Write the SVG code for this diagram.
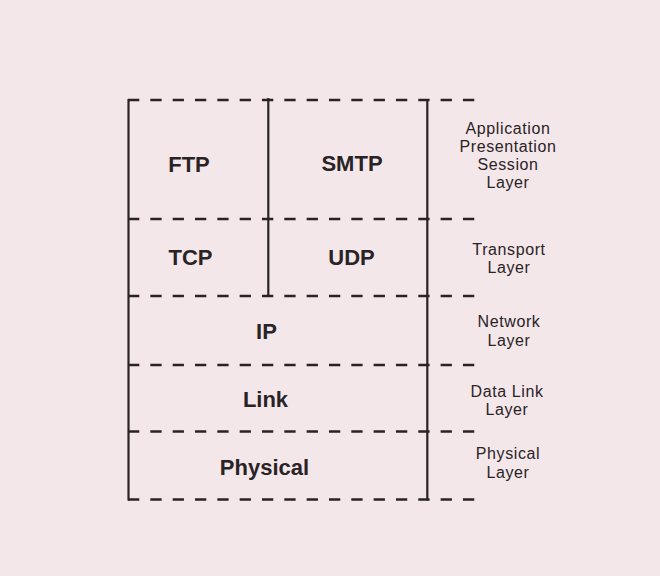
<svg xmlns="http://www.w3.org/2000/svg" width="660" height="576" viewBox="0 0 660 576">
<style>
.solid{stroke:#2a2326;stroke-width:2.2;fill:none}
.dash{stroke:#2a2326;stroke-width:2.6;fill:none;stroke-dasharray:11.3 11.03}
.proto{font-family:"Liberation Sans",Arial,sans-serif;font-weight:bold;font-size:22px;fill:#2a2326;text-anchor:middle}
.layer{font-family:"Liberation Sans",Arial,sans-serif;font-size:16px;letter-spacing:0.6px;fill:#2a2326;text-anchor:middle}
</style>
<rect width="660" height="576" fill="#f4e7ea"/>
<g id="connectors">
<line class="dash" x1="128" y1="100" x2="475" y2="100"/>
<line class="dash" x1="128" y1="219" x2="475" y2="219"/>
<line class="dash" x1="128" y1="296" x2="475" y2="296"/>
<line class="dash" x1="128" y1="365" x2="475" y2="365"/>
<line class="dash" x1="128" y1="431.5" x2="475" y2="431.5"/>
<line class="dash" x1="128" y1="499.5" x2="475" y2="499.5"/>
<line class="solid" x1="128.5" y1="99" x2="128.5" y2="500.5"/>
<line class="solid" x1="268.3" y1="98" x2="268.3" y2="296"/>
<line class="solid" x1="427.3" y1="99" x2="427.3" y2="500.5"/>
</g>
<g id="ftp"><text class="proto" x="189" y="171.5">FTP</text></g>
<g id="smtp"><text class="proto" x="352" y="171">SMTP</text></g>
<g id="tcp"><text class="proto" x="190.5" y="265">TCP</text></g>
<g id="udp"><text class="proto" x="351.5" y="264.5">UDP</text></g>
<g id="ip"><text class="proto" x="266.5" y="339">IP</text></g>
<g id="link"><text class="proto" x="265.5" y="406.5">Link</text></g>
<g id="physical"><text class="proto" x="264.5" y="475">Physical</text></g>
<g id="app-layer">
<text class="layer" x="508" y="134">Application</text>
<text class="layer" x="508" y="152">Presentation</text>
<text class="layer" x="508" y="170">Session</text>
<text class="layer" x="508" y="188">Layer</text>
</g>
<g id="transport-layer">
<text class="layer" x="509" y="255">Transport</text>
<text class="layer" x="509" y="273">Layer</text>
</g>
<g id="network-layer">
<text class="layer" x="509" y="327">Network</text>
<text class="layer" x="509" y="345.5">Layer</text>
</g>
<g id="datalink-layer">
<text class="layer" x="507" y="396.5">Data Link</text>
<text class="layer" x="507" y="415">Layer</text>
</g>
<g id="physical-layer">
<text class="layer" x="508" y="459">Physical</text>
<text class="layer" x="508" y="477.5">Layer</text>
</g>
</svg>
